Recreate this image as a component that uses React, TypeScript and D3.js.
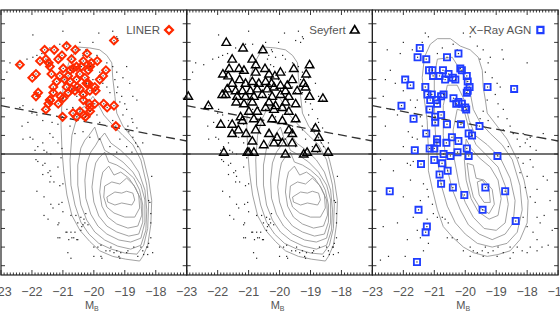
import React from 'react';
import * as d3 from 'd3';

type P = [number, number];

// ---------- axes ----------
const X_DOMAIN: P = [-23, -17];
const Y_DOMAIN: P = [0.05, 1.474];
const xTickLabels = [-23, -22, -21, -20, -19, -18, -17];
const yTickValues = [0.1, 0.2, 0.3, 0.4, 0.5, 0.6, 0.7, 0.8, 0.9, 1.0, 1.1, 1.2, 1.3, 1.4];
const cutLevel = 0.7;
const dividerLine: P[] = [[-23, 0.96], [-17, 0.77]];

// ---------- comparison sample (panels 1 and 2) ----------
const sampleDots: P[] = [
  [-21.00,1.36],[-19.84,1.35],[-19.39,1.36],[-19.26,1.33],[-19.23,1.32],[-19.32,1.30],[-19.48,1.31],[-20.26,1.26],[-20.23,1.25],[-20.45,1.30],
  [-20.03,1.30],[-22.71,1.19],[-22.45,1.18],[-22.16,1.21],[-21.97,1.22],[-21.84,1.23],[-21.68,1.24],[-21.42,1.27],[-21.10,1.29],[-20.87,1.29],
  [-20.45,1.26],[-20.35,1.23],[-20.13,1.22],[-19.90,1.23],[-19.81,1.21],[-19.58,1.19],[-19.39,1.17],[-19.26,1.14],[-19.32,1.10],[-19.23,1.06],
  [-19.26,1.03],[-19.10,1.01],[-19.16,0.98],[-19.00,0.97],[-18.94,0.94],[-19.06,0.91],[-18.77,0.89],[-18.74,0.87],[-18.90,0.85],[-18.61,0.84],
  [-18.74,1.01],[-18.61,0.99],[-18.84,1.08],[-18.94,1.17],[-19.06,1.11],[-20.39,1.21],[-20.29,1.18],[-20.19,1.17],[-20.55,1.16],[-19.81,1.14],
  [-20.03,1.10],[-19.71,1.08],[-19.58,1.06],[-19.48,1.03],[-19.71,0.99],[-22.06,0.79],[-21.97,0.78],[-21.81,0.74],[-21.65,0.76],[-21.42,0.81],
  [-21.32,0.79],[-21.16,0.76],[-21.03,0.73],[-21.52,0.71],[-21.90,0.72],[-22.32,0.85],[-22.13,0.87],[-21.84,0.91],[-21.65,0.88],[-21.35,0.87],
  [-21.16,0.86],[-22.81,1.14],[-22.39,0.95],[-21.97,0.94],[-20.87,0.94],[-20.68,0.95],[-21.00,0.99],[-20.55,1.01],[-20.35,1.02],[-20.23,0.97],
  [-20.45,0.94],[-20.13,0.90],[-19.90,0.91],[-19.81,0.87],[-19.58,0.85],[-19.39,0.88],[-19.26,0.83],[-19.16,0.78],[-18.94,0.74],[-18.77,0.71],
  [-19.81,0.78],[-20.13,0.79],[-20.35,0.82],[-20.61,0.81],[-20.77,0.85],[-19.48,0.74],[-19.26,0.71],[-18.87,0.82],[-18.74,0.79],[-18.65,0.76],
  [-18.58,0.74],[-18.42,0.76],[-21.97,1.34],[-22.29,0.96],[-22.00,0.92],[-22.29,0.78],
  [-21.87,0.67],[-21.81,0.66],[-21.65,0.64],[-21.48,0.60],[-21.39,0.58],[-21.16,0.63],[-21.06,0.68],[-21.10,0.53],[-21.29,0.55],[-21.00,0.54],
  [-21.84,0.50],[-21.61,0.47],[-21.39,0.43],[-21.61,0.37],[-21.13,0.43],[-21.00,0.39],[-21.13,0.33],[-20.74,0.37],[-20.58,0.37],[-20.42,0.36],
  [-20.32,0.35],[-20.19,0.32],[-20.52,0.33],[-20.90,0.28],[-20.74,0.28],[-20.65,0.25],[-20.81,0.24],[-20.52,0.24],[-20.42,0.29],[-21.16,0.25],
  [-20.84,0.17],[-20.74,0.14],[-20.00,0.20],[-19.77,0.21],[-19.61,0.18],[-19.45,0.20],[-19.13,0.17],[-18.90,0.18],[-18.71,0.20],[-18.48,0.20],
  [-18.26,0.20],[-18.10,0.17],[-18.23,0.22],[-18.16,0.25],[-18.26,0.16],[-18.58,0.15],[-19.77,0.15],[-20.00,0.15],[-19.19,0.15],[-18.16,0.38],
  [-18.16,0.33],[-18.13,0.58],[-18.23,0.45],[-21.61,0.72],[-21.39,0.70],[-20.35,0.32],[-20.26,0.38],[-19.87,0.20],[-19.35,0.17],[-18.39,0.16],
  [-21.58,0.65],[-21.42,0.61],[-21.65,0.59],[-21.42,0.55],[-21.32,0.41],[-21.03,0.44],[-21.48,0.35],[-21.16,0.32],[-20.29,0.33],[-20.39,0.31],
  [-20.61,0.28],[-20.87,0.28],[-20.71,0.25],[-20.55,0.24],[-21.10,0.25],[-19.74,0.14],[-19.48,0.18],[-19.26,0.18],[-18.94,0.17],[-18.42,0.18],
  [-18.29,0.20],[-18.19,0.44],[-19.16,0.14],
];

const sampleContours: P[][] = [
  [[-20.52,1.275],[-20.13,1.27],[-19.81,1.26],[-19.58,1.23],[-19.42,1.19],[-19.39,1.11],[-19.32,1.01],[-19.26,0.92],[-19.06,0.85],[-18.77,0.79],
   [-18.52,0.73],[-18.39,0.67],[-18.23,0.56],[-18.13,0.45],[-18.16,0.32],[-18.26,0.21],[-18.42,0.15],[-18.52,0.125],[-18.97,0.135],[-19.39,0.15],
   [-19.81,0.18],[-20.13,0.23],[-20.45,0.29],[-20.71,0.37],[-20.87,0.48],[-20.97,0.60],[-21.03,0.72],[-21.06,0.86],[-21.03,0.99],[-20.97,1.10],[-20.81,1.19]],
  [[-20.23,0.963],[-20.03,1.01],[-19.87,0.97],[-19.68,0.91],[-19.39,0.856],[-19.06,0.80],[-18.74,0.75],[-18.48,0.668],[-18.29,0.533],[-18.23,0.426],
   [-18.26,0.30],[-18.39,0.21],[-18.61,0.162],[-19.00,0.168],[-19.45,0.19],[-19.84,0.22],[-20.16,0.27],[-20.42,0.334],[-20.61,0.426],[-20.74,0.533],
   [-20.77,0.668],[-20.71,0.80],[-20.55,0.894],[-20.39,0.947]],
  [[-20.16,0.80],[-19.97,0.845],[-19.84,0.775],[-19.65,0.813],[-19.45,0.759],[-19.13,0.72],[-18.81,0.668],[-18.55,0.603],[-18.35,0.506],[-18.29,0.40],
   [-18.32,0.291],[-18.48,0.21],[-18.81,0.189],[-19.23,0.205],[-19.65,0.238],[-19.97,0.281],[-20.23,0.345],[-20.42,0.426],[-20.52,0.533],[-20.52,0.641],
   [-20.42,0.732],[-20.29,0.775]],
  [[-19.94,0.748],[-19.81,0.786],[-19.65,0.72],[-19.39,0.695],[-19.06,0.657],[-18.74,0.603],[-18.48,0.533],[-18.35,0.453],[-18.35,0.334],[-18.48,0.248],
   [-18.81,0.227],[-19.19,0.238],[-19.58,0.27],[-19.87,0.313],[-20.10,0.377],[-20.26,0.463],[-20.29,0.56],[-20.23,0.652],[-20.10,0.71]],
  [[-19.84,0.678],[-19.65,0.71],[-19.52,0.657],[-19.26,0.641],[-19.00,0.614],[-18.71,0.571],[-18.52,0.506],[-18.42,0.426],[-18.42,0.334],[-18.55,0.27],
   [-18.87,0.259],[-19.26,0.281],[-19.58,0.313],[-19.84,0.367],[-20.00,0.442],[-20.06,0.523],[-20.00,0.603],[-19.94,0.652]],
  [[-19.71,0.603],[-19.52,0.635],[-19.35,0.587],[-19.13,0.603],[-18.87,0.571],[-18.65,0.517],[-18.48,0.453],[-18.45,0.372],[-18.58,0.313],[-18.90,0.302],
   [-19.26,0.324],[-19.55,0.361],[-19.74,0.42],[-19.81,0.496],[-19.77,0.56]],
  [[-19.65,0.528],[-19.42,0.55],[-19.16,0.539],[-18.94,0.571],[-18.71,0.533],[-18.55,0.48],[-18.52,0.41],[-18.68,0.361],[-19.00,0.361],[-19.35,0.383],
   [-19.58,0.415],[-19.68,0.469]],
  [[-19.58,0.469],[-19.32,0.496],[-19.10,0.49],[-18.94,0.50],[-18.74,0.49],[-18.68,0.453],[-18.77,0.426],[-19.10,0.437],[-19.32,0.426],[-19.55,0.442]],
];

// ---------- X-ray comparison field (panel 3) ----------
const xrayFieldDots: P[] = [
  [-21.29,1.35],[-21.19,1.33],[-21.39,1.30],[-22.00,1.30],[-21.71,1.26],[-22.10,1.24],[-22.52,1.26],[-22.42,1.15],[-22.58,1.10],[-22.26,1.08],
  [-22.00,1.04],[-22.65,1.01],[-22.42,0.94],[-22.19,0.91],[-22.58,0.85],[-21.84,0.82],[-21.71,0.79],[-21.55,0.78],[-22.00,0.74],[-21.39,0.85],
  [-21.45,0.90],[-21.55,0.99],[-21.61,0.95],[-21.77,0.99],[-20.06,1.35],[-19.84,1.33],[-19.74,1.37],[-20.39,1.29],[-20.26,1.26],[-20.74,1.27],
  [-20.90,1.24],[-19.61,1.28],[-19.42,1.26],[-19.19,1.22],[-19.26,1.19],[-19.52,1.21],[-19.35,1.14],[-19.13,1.11],[-18.97,1.08],[-19.19,1.06],
  [-19.03,1.02],[-19.29,0.99],[-18.94,0.97],[-18.77,0.94],[-18.94,0.90],[-18.65,0.89],[-18.55,0.85],[-18.45,0.81],[-18.32,0.78],[-18.23,0.74],
  [-18.77,0.83],[-18.61,0.74],[-19.42,0.93],[-19.52,0.89],[-19.26,0.88],[-18.87,1.06],[-18.77,1.21],[-18.00,1.19],[-17.48,0.81],[-17.68,0.79],
  [-18.00,0.78],[-17.90,0.74],[-18.13,0.81],[-18.32,1.06],[-18.81,1.26],
  [-22.74,0.67],[-22.32,0.61],[-21.87,0.65],[-21.77,0.64],[-21.68,0.66],[-22.00,0.47],[-21.77,0.56],[-21.35,0.54],[-21.23,0.51],[-21.19,0.47],
  [-21.45,0.45],[-21.06,0.43],[-21.03,0.38],[-20.90,0.36],[-20.74,0.36],[-20.65,0.35],[-20.55,0.33],[-20.42,0.25],[-20.58,0.25],[-20.26,0.24],
  [-20.06,0.18],[-19.84,0.20],[-19.74,0.18],[-19.61,0.17],[-19.45,0.18],[-19.35,0.20],[-19.26,0.17],[-19.10,0.18],[-18.94,0.20],[-18.77,0.17],
  [-18.55,0.20],[-18.45,0.17],[-18.32,0.20],[-18.16,0.18],[-18.00,0.17],[-17.90,0.20],[-17.68,0.18],[-17.52,0.20],[-17.68,0.24],[-17.81,0.28],
  [-18.00,0.31],[-18.13,0.36],[-17.68,0.36],[-17.58,0.33],[-17.74,0.44],[-17.90,0.47],[-18.06,0.52],[-17.68,0.51],[-18.00,0.58],[-18.23,0.60],
  [-18.13,0.65],[-17.90,0.67],[-18.29,0.68],[-17.81,0.63],[-17.48,0.58],[-19.84,0.15],[-19.42,0.15],[-18.97,0.15],[-18.55,0.14],[-21.45,0.25],
  [-21.19,0.22],[-21.35,0.18],[-22.65,0.31],[-22.19,0.33],[-22.48,0.15],[-22.74,0.13],[-21.94,0.15],[-21.68,0.36],[-21.55,0.29],[-21.23,0.35],
  [-21.87,0.24],[-17.35,0.56],[-17.26,0.45],[-17.45,0.37],[-17.19,0.29],[-17.32,0.21],[-17.90,0.79],[-18.06,0.76],[-17.71,0.72],
];

const xrayFieldContours: P[][] = [
  [[-20.90,1.32],[-20.48,1.32],[-20.16,1.28],[-19.84,1.26],[-19.58,1.22],[-19.45,1.15],[-19.42,1.06],[-19.35,0.99],[-19.29,0.92],[-18.97,0.85],
   [-18.65,0.78],[-18.32,0.67],[-18.10,0.56],[-17.97,0.45],[-18.00,0.33],[-18.23,0.24],[-18.55,0.18],[-18.94,0.16],[-19.29,0.15],[-19.74,0.17],
   [-20.06,0.20],[-20.39,0.25],[-20.71,0.31],[-20.90,0.40],[-21.06,0.51],[-21.19,0.61],[-21.19,0.72],[-21.23,0.88],[-21.32,0.99],[-21.39,1.11],
   [-21.32,1.22],[-21.13,1.29]],
  [[-20.90,1.21],[-20.42,1.22],[-20.23,1.17],[-20.00,1.11],[-19.84,1.03],[-19.74,0.94],[-19.52,0.87],[-19.19,0.81],[-18.81,0.75],[-18.48,0.67],
   [-18.23,0.53],[-18.16,0.40],[-18.32,0.28],[-18.65,0.22],[-19.13,0.20],[-19.61,0.22],[-20.00,0.27],[-20.32,0.33],[-20.58,0.42],[-20.77,0.53],
   [-20.90,0.67],[-20.97,0.83],[-21.00,0.99],[-21.00,1.12]],
  [[-20.58,1.07],[-20.26,1.07],[-20.03,0.99],[-19.87,0.88],[-19.68,0.80],[-19.29,0.75],[-18.87,0.68],[-18.55,0.57],[-18.39,0.45],[-18.45,0.33],
   [-18.71,0.27],[-19.13,0.24],[-19.55,0.27],[-19.90,0.32],[-20.16,0.40],[-20.42,0.51],[-20.61,0.64],[-20.71,0.80],[-20.71,0.96]],
  [[-20.26,0.94],[-20.03,0.93],[-19.87,0.83],[-19.65,0.75],[-19.29,0.69],[-18.94,0.63],[-18.71,0.53],[-18.61,0.43],[-18.71,0.33],[-19.00,0.29],
   [-19.39,0.30],[-19.74,0.36],[-20.00,0.44],[-20.19,0.53],[-20.35,0.67],[-20.39,0.83]],
  [[-19.97,0.78],[-19.81,0.73],[-19.55,0.68],[-19.19,0.63],[-18.94,0.56],[-18.84,0.46],[-18.94,0.37],[-19.23,0.35],[-19.58,0.39],[-19.81,0.46],
   [-19.97,0.56],[-20.03,0.67]],
  [[-19.94,0.65],[-19.74,0.64],[-19.65,0.57],[-19.39,0.56],[-19.13,0.51],[-19.06,0.43],[-19.23,0.38],[-19.52,0.41],[-19.74,0.47],[-19.87,0.56]],
  [[-19.61,0.55],[-19.45,0.56],[-19.23,0.51],[-19.19,0.44],[-19.39,0.44],[-19.55,0.48]],
];

// ---------- AGN samples ----------
const liners: P[] = [
  [-19.35,1.31],[-22.39,1.18],[-21.59,1.26],[-20.88,1.28],[-21.28,1.26],[-21.03,1.23],[-20.60,1.26],[-20.22,1.24],[-21.74,1.20],[-21.55,1.21],
  [-21.15,1.21],[-20.72,1.21],[-20.34,1.20],[-19.89,1.20],[-20.08,1.19],[-21.42,1.17],[-20.99,1.16],[-20.56,1.17],[-20.18,1.15],[-19.61,1.15],
  [-21.99,1.11],[-21.87,1.13],[-21.37,1.13],[-21.10,1.12],[-20.83,1.12],[-20.45,1.13],[-20.29,1.11],[-19.81,1.10],[-19.70,1.12],[-21.20,1.09],
  [-20.77,1.09],[-20.56,1.10],[-20.18,1.08],[-19.97,1.06],[-21.31,1.06],[-20.88,1.06],[-20.45,1.05],[-21.80,1.03],[-21.87,1.01],[-21.31,1.03],
  [-21.08,1.01],[-20.83,1.03],[-20.61,1.04],[-20.34,1.02],[-20.13,1.04],[-21.42,0.99],[-20.99,1.00],[-21.47,0.97],[-21.15,0.97],[-20.15,0.97],
  [-19.97,0.97],[-19.68,0.97],[-19.57,0.95],[-19.35,0.96],[-21.55,0.94],[-20.67,0.92],[-20.45,0.93],[-20.34,0.91],[-20.13,0.95],[-20.56,0.90],
  [-20.27,0.90],[-21.01,0.90],[-19.29,0.85],[-20.67,1.16],[-20.40,1.17],[-20.54,1.06],[-20.72,1.05],[-20.94,1.10],[-20.34,0.99],[-20.24,1.08],
  [-19.94,1.04],[-21.42,0.99],[-20.12,0.93],[-20.12,1.17],[-20.77,1.15],[-21.46,1.19],
];

const seyferts: P[] = [
  [-21.72,1.30],[-21.18,1.27],[-20.54,1.26],[-21.53,1.21],[-20.88,1.21],[-20.77,1.18],[-21.63,1.16],[-21.31,1.16],[-21.15,1.15],[-20.77,1.14],
  [-20.47,1.16],[-19.54,1.16],[-19.03,1.18],[-21.83,1.13],[-21.66,1.12],[-21.29,1.10],[-20.34,1.13],[-20.15,1.12],[-19.97,1.14],[-19.14,1.13],
  [-19.59,1.10],[-20.88,1.09],[-20.67,1.08],[-20.45,1.09],[-20.26,1.08],[-19.97,1.07],[-19.75,1.07],[-21.10,1.08],[-21.53,1.08],[-19.22,1.08],
  [-21.69,1.05],[-21.85,1.02],[-21.42,1.04],[-21.20,1.04],[-20.94,1.04],[-20.72,1.05],[-20.40,1.05],[-20.18,1.06],[-19.81,1.04],[-19.43,1.04],
  [-19.16,1.06],[-21.74,1.02],[-21.37,1.01],[-21.10,1.01],[-20.83,1.01],[-20.56,1.02],[-20.24,1.01],[-19.97,1.02],[-19.70,1.01],[-19.03,1.01],
  [-18.60,1.00],[-22.95,1.01],[-22.30,0.96],[-21.40,0.98],[-21.15,0.97],[-20.88,0.98],[-20.34,0.98],[-20.13,0.96],[-19.81,0.98],[-19.48,0.97],
  [-21.26,0.90],[-20.99,0.93],[-20.72,0.93],[-20.45,0.95],[-20.18,0.94],[-19.91,0.95],[-19.70,0.93],[-20.83,0.89],[-21.90,0.86],[-21.53,0.86],
  [-21.20,0.88],[-20.61,0.87],[-19.91,0.88],[-19.48,0.89],[-20.24,0.89],[-21.53,0.81],[-21.33,0.83],[-21.08,0.81],[-20.77,0.83],[-20.34,0.81],
  [-19.70,0.83],[-19.59,0.81],[-18.84,0.84],[-20.88,0.77],[-20.51,0.75],[-20.18,0.76],[-20.08,0.79],[-19.91,0.76],[-19.59,0.76],[-18.73,0.79],
  [-21.80,0.71],[-21.04,0.71],[-20.83,0.71],[-19.11,0.71],[-19.22,0.70],[-18.43,0.71],[-18.82,0.73],[-19.81,0.70],[-20.99,0.71],
];

const xrayAgn: P[] = [
  [-21.47,1.27],[-21.54,1.22],[-21.26,1.21],[-20.59,1.22],[-20.22,1.24],[-21.17,1.15],[-21.06,1.15],[-21.04,1.12],[-20.72,1.15],[-20.54,1.13],
  [-20.83,1.12],[-20.65,1.10],[-20.40,1.11],[-20.32,1.10],[-20.16,1.16],[-20.11,1.15],[-19.95,1.12],[-19.92,1.09],[-19.86,1.06],[-19.92,1.04],
  [-19.95,1.03],[-21.94,1.10],[-21.77,1.07],[-21.29,1.06],[-21.22,1.02],[-21.08,1.02],[-21.13,0.99],[-20.94,0.99],[-20.78,1.01],[-20.70,1.02],
  [-20.91,0.97],[-20.38,1.00],[-20.22,0.98],[-20.11,0.97],[-20.29,0.97],[-20.00,0.95],[-19.97,0.94],[-21.15,0.94],[-19.28,1.06],[-18.42,1.05],
  [-22.06,0.96],[-21.67,0.89],[-20.97,0.90],[-20.78,0.91],[-20.97,0.87],[-20.59,0.86],[-20.14,0.86],[-19.54,0.85],[-19.89,0.81],[-19.78,0.80],
  [-21.26,0.81],[-20.91,0.78],[-20.43,0.79],[-20.61,0.76],[-20.22,0.77],[-20.91,0.76],[-21.15,0.73],[-21.00,0.73],[-21.63,0.72],[-19.95,0.73],
  [-20.70,0.70],[-20.48,0.69],[-20.25,0.71],[-19.89,0.69],[-18.96,0.69],[-21.43,0.646],[-21.00,0.668],[-20.75,0.65],[-20.57,0.61],[-20.83,0.59],
  [-20.78,0.54],[-20.40,0.52],[-20.03,0.48],[-19.35,0.52],[-18.71,0.50],[-19.44,0.40],[-18.37,0.34],[-22.44,0.50],[-21.51,0.40],[-21.24,0.31],
  [-21.28,0.28],[-21.56,0.12],
];

// ---------- layout ----------
const PANEL_W = 185.7;
const TOP = 10;
const BOTTOM = 275;
const AXIS_COL = '#222';
const TEXT_COL = '#555';
const FONT = "'Liberation Sans', Arial, sans-serif";

type Kind = 'diamond' | 'triangle' | 'square';
const shapes: Record<Kind, string> = {
  diamond: 'M0,-3.9L3.9,0L0,3.9L-3.9,0Z',
  triangle: 'M0,-4.4L4.3,3.0L-4.3,3.0Z',
  square: 'M-3.1,-3.1H3.1V3.1H-3.1Z',
};
const widths: Record<Kind, number> = { diamond: 2, triangle: 1.4, square: 1.8 };

function Panel({ index, label, kind, color, points, dots, contours, lastPanel }: any) {
  const left = 1 + PANEL_W * index;
  const right = left + PANEL_W;
  const x = d3.scaleLinear().domain(X_DOMAIN).range([left, right]);
  const y = d3.scaleLinear().domain(Y_DOMAIN).range([BOTTOM, TOP]);
  const line = d3.line<P>().x(d => x(d[0])).y(d => y(d[1])).curve(d3.curveLinearClosed);
  const seg = d3.line<P>().x(d => x(d[0])).y(d => y(d[1]));
  const minor = d3.range(0, 61).map(i => ({ v: -23 + i / 10, major: i % 10 === 0 }));
  const labels = lastPanel ? xTickLabels : xTickLabels.slice(0, -1);
  const legendX = left + 168;
  const legendY = 30;
  return (
    <g>
      {contours.map((c: P[], i: number) => (
        <path key={'c' + i} d={line(c) || ''} fill="none" stroke="#8a8a8a" strokeWidth={0.8} />
      ))}
      {dots.map((d: P, i: number) => (
        <rect key={'d' + i} x={x(d[0]) - 0.6} y={y(d[1]) - 0.6} width={1.2} height={1.2} fill="#222" />
      ))}
      <line x1={left} x2={right} y1={y(cutLevel)} y2={y(cutLevel)} stroke="#444" strokeWidth={1.5} />
      <path d={seg(dividerLine) || ''} fill="none" stroke="#333" strokeWidth={1.3} strokeDasharray="9 5" />
      {points.map((p: P, i: number) => (
        <g key={'p' + i} transform={`translate(${x(p[0])},${y(p[1])})`}>
          <path d={shapes[kind as Kind]} fill="none" stroke={color} strokeWidth={widths[kind as Kind]} />
          {kind !== 'triangle' && <rect x={-0.6} y={-0.6} width={1.2} height={1.2} fill="#333" />}
        </g>
      ))}
      {/* frame */}
      <rect x={left} y={TOP} width={PANEL_W} height={BOTTOM - TOP} fill="none" stroke={AXIS_COL} strokeWidth={1.2} />
      {minor.map((t, i) => (
        <g key={'xt' + i}>
          <line x1={x(t.v)} x2={x(t.v)} y1={BOTTOM} y2={BOTTOM - (t.major ? 5 : 2.5)} stroke={AXIS_COL} strokeWidth={0.9} />
          <line x1={x(t.v)} x2={x(t.v)} y1={TOP} y2={TOP + (t.major ? 5 : 2.5)} stroke={AXIS_COL} strokeWidth={0.9} />
        </g>
      ))}
      {yTickValues.map((v, i) => (
        <g key={'yt' + i}>
          <line x1={left} x2={left + 4} y1={y(v)} y2={y(v)} stroke={AXIS_COL} strokeWidth={0.9} />
          <line x1={right} x2={right - 4} y1={y(v)} y2={y(v)} stroke={AXIS_COL} strokeWidth={0.9} />
        </g>
      ))}
      {labels.map(v => (
        <text key={'xl' + v} x={x(v)} y={296} textAnchor="middle" fontSize={12.5} fill={TEXT_COL} fontFamily={FONT}>
          {'\u2212' + Math.abs(v)}
        </text>
      ))}
      <text x={(left + right) / 2 - 2} y={309} textAnchor="middle" fontSize={11} fill={TEXT_COL} fontFamily={FONT}>
        M<tspan fontSize={7} dy={1.5}>B</tspan>
      </text>
      {/* legend */}
      <text x={legendX - 9} y={legendY + 4} textAnchor="end" fontSize={11.5} fill={TEXT_COL} fontFamily={FONT}>{label}</text>
      <g transform={`translate(${legendX},${legendY})`}>
        <path d={shapes[kind as Kind]} fill="none" stroke={color} strokeWidth={widths[kind as Kind] + 0.3} />
      </g>
    </g>
  );
}

export default function App() {
  const panels = [
    { label: 'LINER', kind: 'diamond', color: '#ff2a00', points: liners, dots: sampleDots, contours: sampleContours },
    { label: 'Seyfert', kind: 'triangle', color: '#000000', points: seyferts, dots: sampleDots, contours: sampleContours },
    { label: 'X\u2212Ray AGN', kind: 'square', color: '#1f3dff', points: xrayAgn, dots: xrayFieldDots, contours: xrayFieldContours },
  ];
  return (
    <svg width={560} height={315} style={{ position: 'absolute', left: 0, top: 0, background: '#fff' }}>
      <rect width={560} height={315} fill="#fff" />
      {panels.map((p, i) => (
        <Panel key={i} index={i} lastPanel={i === panels.length - 1} {...p} />
      ))}
    </svg>
  );
}
